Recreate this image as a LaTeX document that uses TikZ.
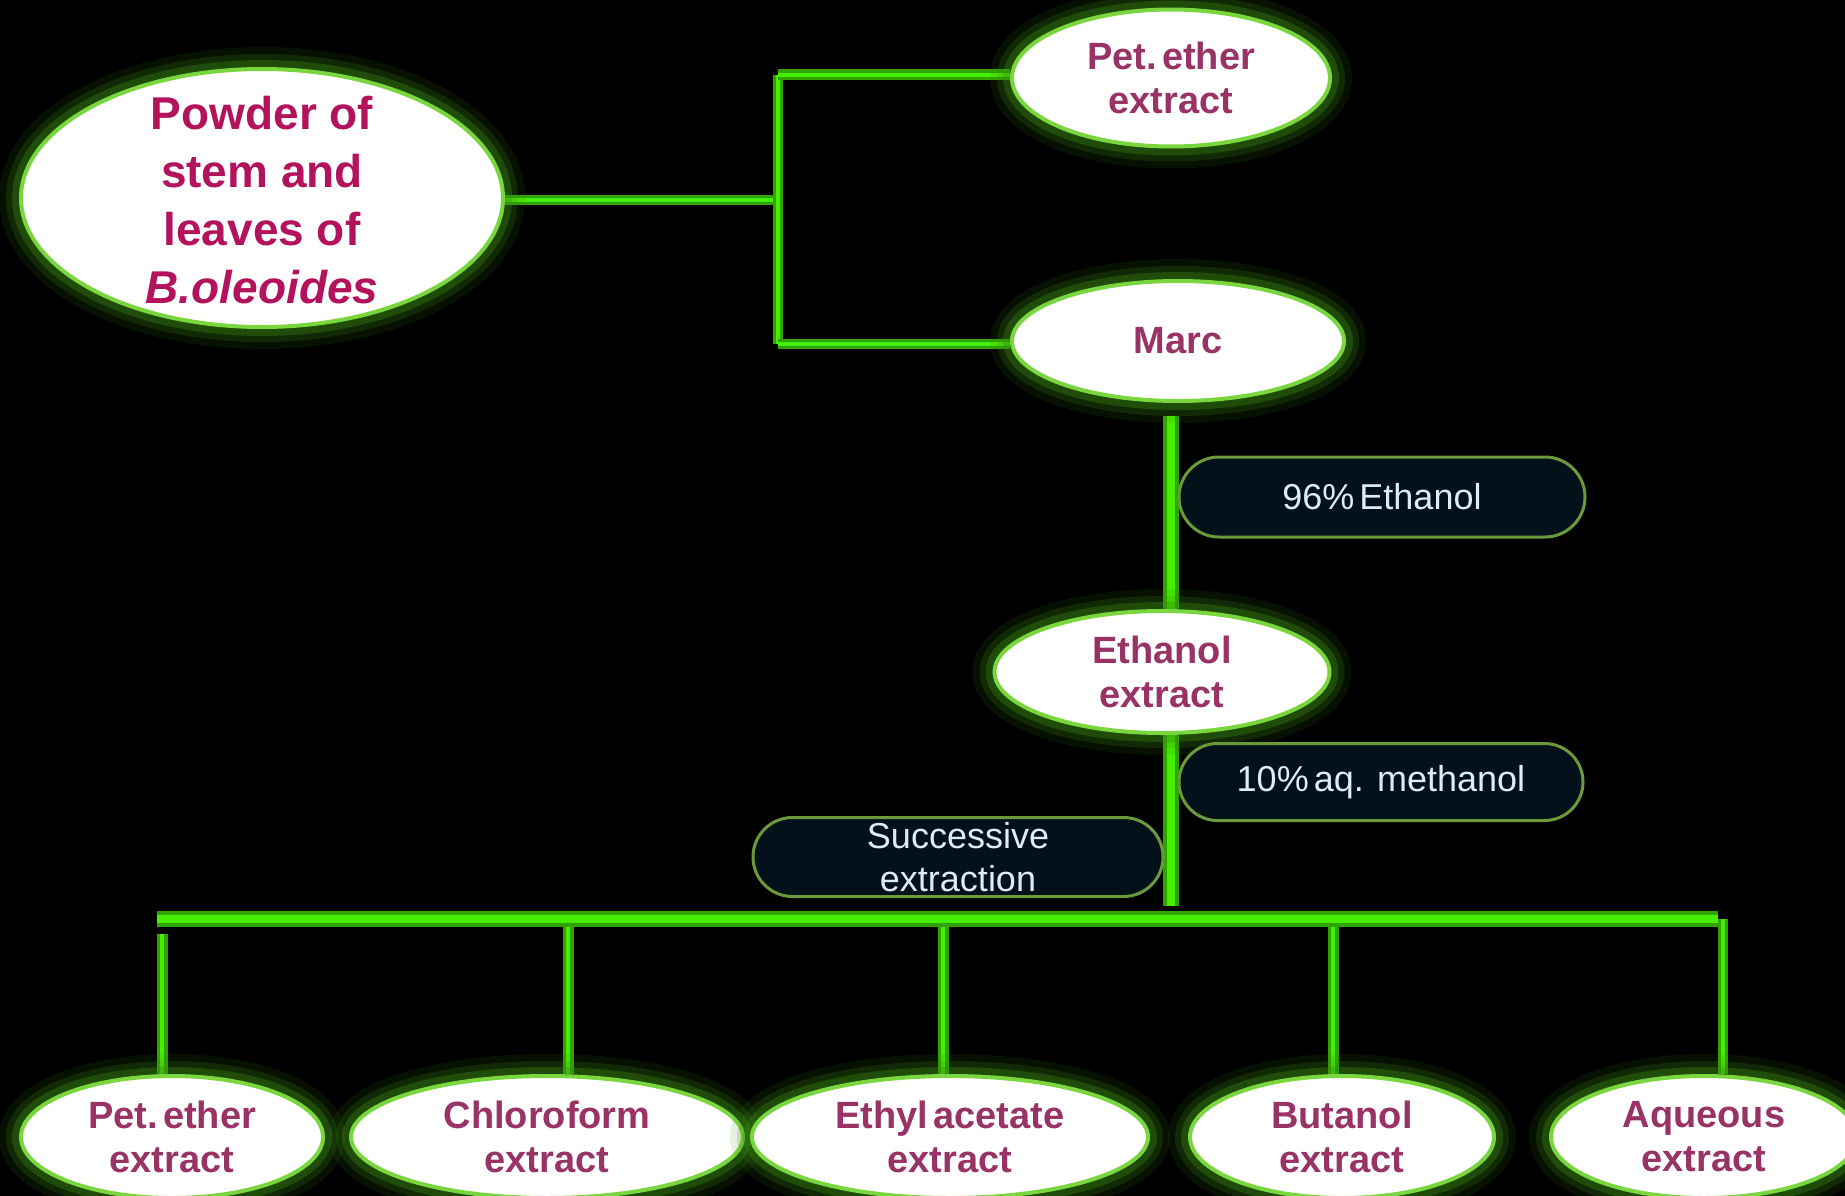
\documentclass[tikz,border=0pt]{standalone}
\usepackage{fontspec}
\setmainfont{Liberation Sans}
\usetikzlibrary{shapes.geometric,shapes.misc}
\definecolor{rim}{HTML}{7AD63E}
\definecolor{glowc}{HTML}{3A8E12}
\definecolor{txtA}{HTML}{B3125C}
\definecolor{txtB}{HTML}{993366}
\definecolor{gdark}{HTML}{2FA300}
\definecolor{glite}{HTML}{46EE00}
\definecolor{pillfill}{HTML}{03111A}
\definecolor{pillrim}{HTML}{6B9A3A}
\definecolor{pilltxt}{HTML}{DDECF8}
\pgfdeclarelayer{bg}
\pgfdeclarelayer{lines}
\pgfsetlayers{bg,lines,main}
\newcommand{\tsp}{\hspace{0.14em}}
\tikzset{
  bubble/.style={ellipse, draw=rim, line width=4pt, fill=white, text=txtB,
    font=\bfseries\fontsize{38}{44}\selectfont, align=center, inner sep=0pt,
    preaction={draw=glowc, line width=44pt, draw opacity=0.12},
    preaction={draw=glowc, line width=30pt, draw opacity=0.2},
    preaction={draw=glowc, line width=18pt, draw opacity=0.35}},
  bigtext/.style={text=txtA, font=\bfseries\fontsize{46}{58}\selectfont, align=center, inner sep=0pt},
  pill/.style={rounded rectangle, draw=pillrim, line width=3pt, fill=pillfill,
    text=pilltxt, font=\fontsize{36}{43}\selectfont, align=center, inner sep=0pt},
  conn/.style={draw=gdark, line width=#1, postaction={draw=glite, line width=#1*0.45}},
  conn/.default=11pt
}
\begin{document}
\begin{tikzpicture}[x=1pt,y=-1pt]
\begin{pgfonlayer}{bg}
\fill[black] (0,0) rectangle (1845,1196);
\end{pgfonlayer}
\useasboundingbox (0,0) rectangle (1845,1196);

\node[bubble, minimum width=482pt, minimum height=258pt,
  label={[bigtext, yshift=-2pt]center:{Powder of\\stem and\\leaves of\\\textit{B.oleoides}}}] (src) at (262,198) {};
\node[bubble, minimum width=318pt, minimum height=137pt] (pe1) at (1171,78) {Pet.\tsp ether\\extract};
\node[bubble, minimum width=332pt, minimum height=120pt] (marc) at (1178,341) {Marc};
\node[bubble, minimum width=335pt, minimum height=122pt] (eth) at (1162,672) {Ethanol\\extract};

\node[bubble, minimum width=302pt, minimum height=122pt] (b1) at (172,1137) {Pet.\tsp ether\\extract};
\node[bubble, minimum width=392pt, minimum height=122pt] (b2) at (547,1137) {Chloroform\\extract};
\node[bubble, minimum width=396pt, minimum height=122pt] (b3) at (950,1137) {Ethyl\tsp acetate\\extract};
\node[bubble, minimum width=304pt, minimum height=122pt] (b4) at (1342,1137) {Butanol\\extract};
\node[bubble, minimum width=306pt, minimum height=122pt] (b5) at (1704,1137) {Aqueous\\extract};

\node[pill, minimum width=406pt, minimum height=80pt] (l1) at (1382,497) {96\%\tsp Ethanol};
\node[pill, minimum width=404pt, minimum height=77pt] (l2) at (1381,782) {10\%\tsp aq. methanol};
\node[pill, minimum width=410pt, minimum height=79pt] (l3) at (958,857) {Successive\\extraction};

\coordinate (j1) at (778,200);
\coordinate (jt) at (778,75);
\coordinate (jb) at (778,344);
\coordinate (m1) at (1171,416);
\coordinate (m2) at (1171,621);
\coordinate (e1) at (1171,732);
\coordinate (e2) at (1171,906);
\coordinate (busL) at (157,919);
\coordinate (busR) at (1718,919);

\begin{pgfonlayer}{lines}
\draw[conn=10pt] (src.east |- j1) -- (j1);
\draw[conn=10pt] (jt) -- (jb);
\draw[conn=11pt] (jt) -- (pe1.west |- jt);
\draw[conn=10pt] (jb) -- (marc.west |- jb);
\draw[conn=16pt] (m1) -- (m2);
\draw[conn=16pt] (e1) -- (e2);
\draw[conn=16pt] (busL) -- (busR);
\draw[conn=11pt] (162,934) -- (b1.north -| 162,0);
\draw[conn=11pt] (568,927) -- (b2.north -| 568,0);
\draw[conn=11pt] (943,927) -- (b3.north -| 943,0);
\draw[conn=11pt] (1333,927) -- (b4.north -| 1333,0);
\draw[conn=10pt] (1723,919) -- (b5.north -| 1723,0);
\end{pgfonlayer}
\end{tikzpicture}
\end{document}
